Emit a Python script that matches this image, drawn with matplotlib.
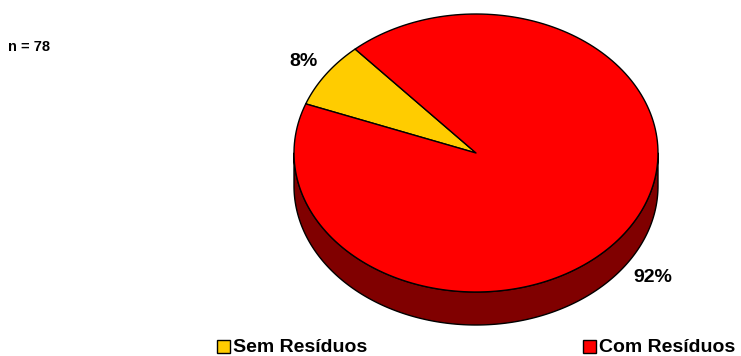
import numpy as np
import matplotlib
matplotlib.use("Agg")
import matplotlib.pyplot as plt
from matplotlib.patches import Polygon, Rectangle

# Sample composition (counts)
categories = ["Sem Resíduos", "Com Resíduos"]
counts = [6, 72]
colors = ["#FFCC00", "#FF0000"]
side_colors = ["#806600", "#800000"]
n_total = sum(counts)

plt.rcParams["font.family"] = ["Liberation Sans", "DejaVu Sans"]
plt.rcParams["font.weight"] = "bold"

W, H = 741, 356
fig = plt.figure(figsize=(W / 100, H / 100), dpi=100)
ax = fig.add_axes([0, 0, 1, 1])
ax.set_xlim(0, W)
ax.set_ylim(H, 0)
ax.axis("off")

# 3D pie geometry (pixel space, y down)
cx, cy, rx, ry, depth = 476, 153, 182, 139, 33
start = 159.3  # slices run clockwise from here


def ellipse_pts(t0, t1, dy=0.0, n=200):
    t = np.radians(np.linspace(t0, t1, n))
    return np.column_stack([cx + rx * np.cos(t), cy - ry * np.sin(t) + dy])


fracs = np.array(counts) / n_total
spans = fracs * 360
bounds = []
a = start
for s in spans:
    bounds.append((a - s, a))
    a -= s

# side walls: only the front half (180..360 deg) is visible
for (t0, t1), sc in zip(bounds, side_colors):
    for k in (0, 1, -1):
        lo, hi = max(t0, 180 + 360 * k), min(t1, 360 + 360 * k)
        if hi > lo:
            top = ellipse_pts(lo, hi)
            bot = ellipse_pts(hi, lo, dy=depth)
            ax.add_patch(Polygon(np.vstack([top, bot]), closed=True,
                                 facecolor=sc, edgecolor="black", lw=1.0,
                                 joinstyle="round"))

# top face
for (t0, t1), c in zip(bounds, colors):
    pts = np.vstack([[cx, cy], ellipse_pts(t0, t1)])
    ax.add_patch(Polygon(pts, closed=True, facecolor=c, edgecolor="black",
                         lw=1.0, joinstyle="round"))

# percentage labels
label_pos = [(303, 61), (653, 277)]
for f, (x, y) in zip(fracs, label_pos):
    ax.text(x, y, f"{round(f * 100):d}%", ha="center", va="center",
            fontsize=14, fontweight="bold")

ax.text(8, 47, f"n = {n_total}", ha="left", va="center", fontsize=10.5,
        fontweight="bold")

# legend
legend_x = [217, 583]
for x, c, name in zip(legend_x, colors, categories):
    ax.add_patch(Rectangle((x, 340), 13, 13, facecolor=c, edgecolor="black",
                           lw=1.0))
    ax.text(x + 16, 352, name, ha="left", va="baseline", fontsize=14,
            fontweight="bold")

fig.savefig("out.png", dpi=100)
